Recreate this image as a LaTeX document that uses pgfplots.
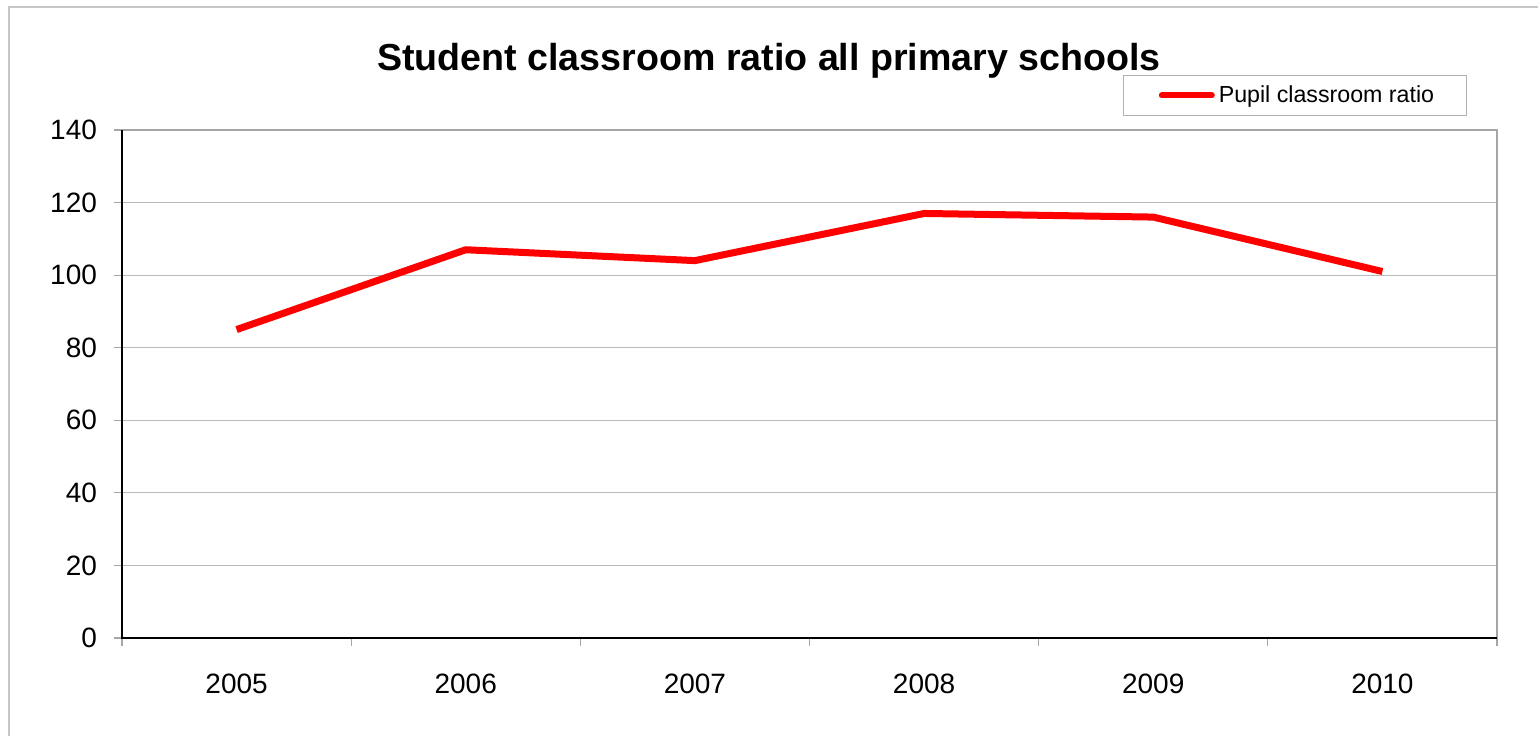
\documentclass[border=0pt]{standalone}
\usepackage{fontspec}
\setmainfont{Liberation Sans}
\usepackage{pgfplots}
\pgfplotsset{compat=1.18}
\begin{document}
\begin{tikzpicture}[x=1pt,y=1pt]
\useasboundingbox (0,0) rectangle (769,368);
\draw[gray!45, line width=0.8pt] (4.5,0) -- (4.5,364.5) -- (769,364.5);
\node[font=\fontsize{18.8}{20}\selectfont\bfseries] at (384.5,337.5) {Student classroom ratio all primary schools};
\begin{axis}[
  at={(61pt,49pt)}, anchor=south west,
  scale only axis, width=687.5pt, height=254pt,
  xmin=-0.5, xmax=5.5, ymin=0, ymax=140,
  xtick={0,1,2,3,4,5},
  xticklabels={2005,2006,2007,2008,2009,2010},
  minor xtick={-0.5,0.5,1.5,2.5,3.5,4.5,5.5},
  ytick={0,20,40,60,80,100,120,140},
  ymajorgrids, grid style={gray!55, line width=0.5pt},
  tick align=outside, tick pos=left,
  major tick length=4pt, minor tick length=4pt,
  xtick style={draw=none},
  minor x tick style={draw=gray!70, line width=0.6pt},
  ytick style={draw=gray!70, line width=0.6pt},
  axis line style={draw=none},
  tick label style={font=\fontsize{14}{16}\selectfont},
  xticklabel style={yshift=-10.5pt},
  yticklabel style={xshift=-5pt},
  /pgf/number format/assume math mode=true,
  clip=false,
  legend style={at={(rel axis cs:0.978,1)}, anchor=south east, yshift=7pt,
    draw=gray!60, line width=0.6pt, inner xsep=14pt, inner ysep=3pt,
    font=\fontsize{11.6}{13}\selectfont},
  legend image code/.code={\path[draw=none] (-5pt,0pt) -- (0pt,0pt);
    \draw[red, line width=3pt, line cap=round] (0pt,0pt) -- (25pt,0pt);},
]
\draw[gray!70, line width=1pt] (rel axis cs:0,1) -- (rel axis cs:1,1) -- (rel axis cs:1,0);
\draw[black, line width=1pt] (rel axis cs:0,1) -- (rel axis cs:0,0) -- (rel axis cs:1,0);
\addplot[red, line width=3.5pt, line join=round] coordinates {
 (0,85) (1,107) (2,104) (3,117) (4,116) (5,101)};
\addlegendentry{Pupil classroom ratio}
\end{axis}
\end{tikzpicture}
\end{document}
